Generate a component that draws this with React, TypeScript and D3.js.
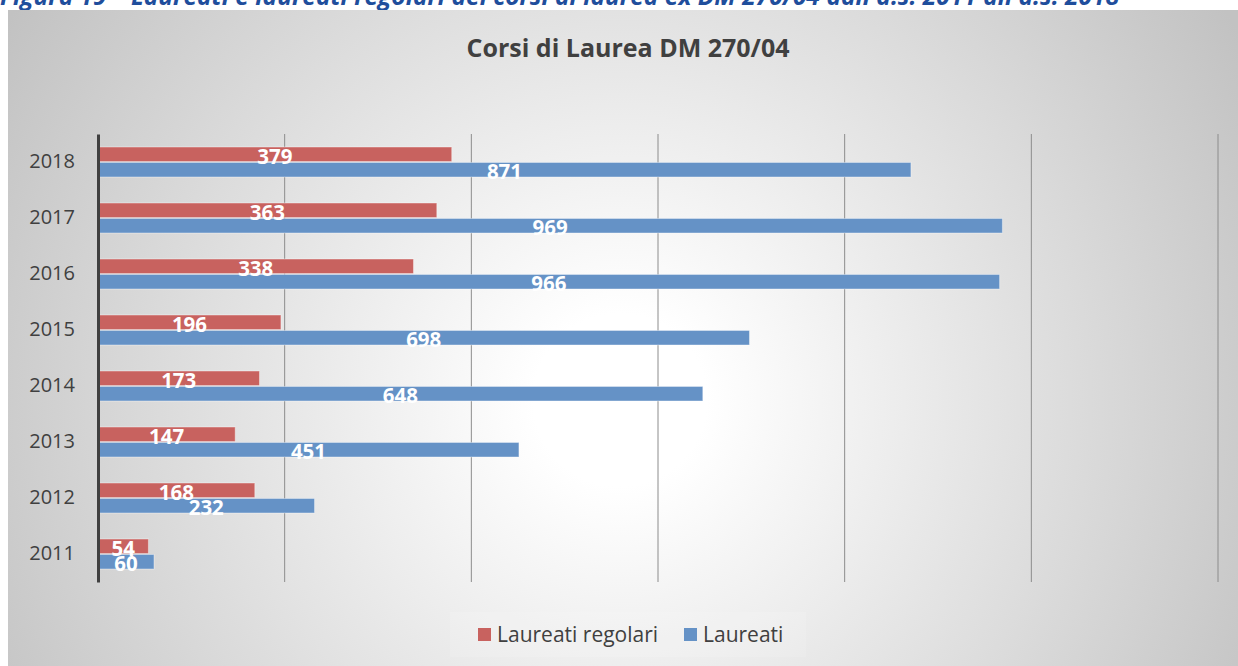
import React, { useRef, useEffect } from 'react';
import * as d3 from 'd3';

const anni = ['2018', '2017', '2016', '2015', '2014', '2013', '2012', '2011'];
const laureatiRegolari = [379, 363, 338, 196, 173, 147, 168, 54];
const laureati = [871, 969, 966, 698, 648, 451, 232, 60];
const gridTicks = [0, 200, 400, 600, 800, 1000, 1200];
const serie = ['Laureati regolari', 'Laureati'];
const colori = ['#c8625f', '#6592c6'];

const W = 1238;
const H = 666;
const FONT = "'Open Sans', 'Noto Sans', sans-serif";

const App = () => {
  const ref = useRef<SVGSVGElement>(null);

  useEffect(() => {
    const root = d3.select(ref.current);
    root.selectAll('*').remove();

    const defs = root.append('defs');
    const grad = defs.append('radialGradient')
      .attr('id', 'bg')
      .attr('gradientUnits', 'userSpaceOnUse')
      .attr('cx', 620).attr('cy', 400).attr('r', 720);
    grad.append('stop').attr('offset', '0%').attr('stop-color', '#ffffff');
    grad.append('stop').attr('offset', '12%').attr('stop-color', '#ffffff');
    grad.append('stop').attr('offset', '100%').attr('stop-color', '#c2c2c2');

    // caption, cut at the top of the page
    root.append('text')
      .attr('x', 0).attr('y', 5)
      .attr('font-family', FONT)
      .attr('font-size', 24.5)
      .attr('font-weight', 'bold')
      .attr('font-style', 'italic')
      .attr('fill', '#1f4e9c')
      .text("Figura 19 – Laureati e laureati regolari dei corsi di laurea ex DM 270/04 dall'a.s. 2011 all'a.s. 2018");

    root.append('rect')
      .attr('x', 8).attr('y', 10)
      .attr('width', W - 8).attr('height', H - 10)
      .attr('fill', 'url(#bg)');

    root.append('text')
      .attr('x', 628).attr('y', 57)
      .attr('text-anchor', 'middle')
      .attr('font-family', FONT)
      .attr('font-size', 25)
      .attr('font-weight', 'bold')
      .attr('fill', '#404040')
      .text('Corsi di Laurea DM 270/04');

    const x = d3.scaleLinear().domain([0, 1200]).range([98, 1218]);
    const y = d3.scaleBand().domain(anni).range([134, 582]).paddingInner(0).paddingOuter(0);
    const sub = d3.scaleBand().domain(serie).range([0, 30]).paddingInner(0.06);
    const band = y.bandwidth();
    const off = (band - 30) / 2;

    // gridlines
    root.append('g').selectAll('line')
      .data(gridTicks.slice(1))
      .enter()
      .append('line')
      .attr('x1', d => x(d)).attr('x2', d => x(d))
      .attr('y1', 134).attr('y2', 582)
      .attr('stroke', '#8c8c8c')
      .attr('stroke-width', 1);

    const valori = [laureatiRegolari, laureati];
    serie.forEach((s, si) => {
      const g = root.append('g');
      g.selectAll('rect')
        .data(anni)
        .enter()
        .append('rect')
        .attr('x', x(0))
        .attr('y', d => (y(d) as number) + off + (sub(s) as number))
        .attr('width', (d, i) => x(valori[si][i]) - x(0))
        .attr('height', sub.bandwidth())
        .attr('fill', colori[si])
        .attr('stroke', '#ffffff')
        .attr('stroke-opacity', 0.4)
        .attr('stroke-width', 1);
    });

    serie.forEach((s, si) => {
      root.append('g').selectAll('text')
        .data(anni)
        .enter()
        .append('text')
        .attr('x', (d, i) => (x(0) + x(valori[si][i])) / 2)
        .attr('y', d => (y(d) as number) + off + (sub(s) as number) + sub.bandwidth() + 2)
        .attr('text-anchor', 'middle')
        .attr('font-family', FONT)
        .attr('font-size', 20.5)
        .attr('font-weight', 'bold')
        .attr('fill', '#ffffff')
        .text((d, i) => valori[si][i]);
    });

    // y axis
    const yAxis = root.append('g')
      .attr('transform', `translate(${x(0)},0)`)
      .call(d3.axisLeft(y).tickSize(0).tickPadding(23));
    yAxis.select('.domain').attr('stroke', '#404040').attr('stroke-width', 3);
    yAxis.selectAll('.tick text')
      .attr('font-family', FONT)
      .attr('font-size', 20)
      .attr('fill', '#404040');

    // legend
    root.append('rect')
      .attr('x', 450).attr('y', 612)
      .attr('width', 356).attr('height', 45)
      .attr('fill', '#ffffff').attr('opacity', 0.12);
    const legX = [478, 684];
    serie.forEach((s, si) => {
      root.append('rect')
        .attr('x', legX[si]).attr('y', 628)
        .attr('width', 13).attr('height', 13)
        .attr('fill', colori[si]);
      root.append('text')
        .attr('x', legX[si] + 19).attr('y', 642)
        .attr('font-family', FONT)
        .attr('font-size', 21)
        .attr('fill', '#404040')
        .text(s);
    });
  }, []);

  return (
    <svg ref={ref} width={W} height={H}
      style={{ position: 'absolute', left: 0, top: 0, display: 'block' }} />
  );
};

export default App;
